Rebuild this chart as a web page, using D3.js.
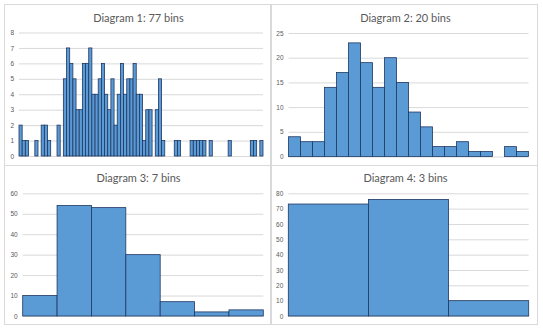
<!DOCTYPE html>
<html lang="en">
<head>
  <meta charset="UTF-8">
  <title>Histograms with different bin counts</title>
  <script src="https://d3js.org/d3.v7.min.js"></script>
  <style>
    body { margin: 0; background: #fff; }
    svg { display: block; font-family: Lato, "Open Sans", sans-serif; }
    .tick text { fill: #595959; font-size: 6.5px; }
    .tick line { stroke: #d9d9d9; }
    .title { fill: #595959; font-size: 11px; }
  </style>
</head>
<body>
<div id="chart"></div>
<script>
// bin counts
const counts77 = [
  2, 1, 1, 0, 0, 1, 0, 2, 2, 1, 0, 0, 2, 0,
  5, 7, 6, 5, 3, 3, 6, 6, 7, 4, 4, 5, 6, 4, 3, 5, 2, 4, 6, 4, 5, 5, 6,
  4, 4, 1, 3, 3, 0, 3, 5, 1,
  0, 0, 0, 1, 1, 0, 0, 0, 1, 1, 1, 1, 1, 0, 1,
  0, 0, 0, 0, 0, 1, 0, 0, 0, 0, 0, 0, 1, 1, 0, 1
];
const counts20 = [4, 3, 3, 14, 17, 23, 19, 14, 20, 15, 9, 6, 2, 2, 3, 1, 1, 0, 2, 1];
const counts7 = [10, 54, 53, 30, 7, 2, 3];
const counts3 = [73, 76, 10];

const titles = ["Diagram 1: 77 bins", "Diagram 2: 20 bins", "Diagram 3: 7 bins", "Diagram 4: 3 bins"];

const ticks1 = [0, 1, 2, 3, 4, 5, 6, 7, 8];
const ticks2 = [0, 5, 10, 15, 20, 25];
const ticks3 = [0, 10, 20, 30, 40, 50, 60];
const ticks4 = [0, 10, 20, 30, 40, 50, 60, 70, 80];

// panel boxes and plot areas (pixels)
const panels = [
  { data: counts77, ticks: ticks1, title: titles[0], box: [4, 4, 270, 165], plot: [19, 32.5, 263, 156], titleY: 18 },
  { data: counts20, ticks: ticks2, title: titles[1], box: [271, 4, 537, 165], plot: [288.5, 33, 528.5, 156.5], titleY: 18 },
  { data: counts7, ticks: ticks3, title: titles[2], box: [4, 165, 270, 324], plot: [22.7, 193.3, 263.3, 316], titleY: 178 },
  { data: counts3, ticks: ticks4, title: titles[3], box: [271, 165, 537, 324], plot: [288.3, 193.3, 528.7, 316], titleY: 178 }
];

const svg = d3.select("#chart")
  .append("svg")
  .attr("width", 543)
  .attr("height", 331);

panels.forEach(p => {
  const [bx0, by0, bx1, by1] = p.box;
  const [left, top, right, bottom] = p.plot;

  // panel frame
  svg.append("rect")
    .attr("x", bx0 + 0.5)
    .attr("y", by0 + 0.5)
    .attr("width", bx1 - bx0)
    .attr("height", by1 - by0)
    .attr("fill", "#fff")
    .attr("stroke", "#d9d9d9");

  const x = d3.scaleLinear()
    .domain([0, p.data.length])
    .range([left, right]);

  const y = d3.scaleLinear()
    .domain([0, d3.max(p.ticks)])
    .range([bottom, top]);

  // gridlines + tick labels
  const axis = svg.append("g")
    .attr("transform", `translate(${left},0)`)
    .call(d3.axisLeft(y).tickValues(p.ticks).tickSize(-(right - left)).tickPadding(5));
  axis.select(".domain").remove();

  // bars
  svg.append("g")
    .selectAll("rect")
    .data(p.data)
    .join("rect")
    .attr("x", (d, i) => x(i))
    .attr("y", d => y(d))
    .attr("width", (d, i) => x(i + 1) - x(i))
    .attr("height", d => y(0) - y(d))
    .attr("fill", "#5b9bd5")
    .attr("stroke", "#1f3763")
    .attr("stroke-width", 0.8)
    .style("display", d => d > 0 ? null : "none");

  // title
  svg.append("text")
    .attr("class", "title")
    .attr("x", (bx0 + bx1) / 2 + 1.5)
    .attr("y", p.titleY)
    .attr("dy", "0.35em")
    .attr("text-anchor", "middle")
    .text(p.title);
});
</script>
</body>
</html>
